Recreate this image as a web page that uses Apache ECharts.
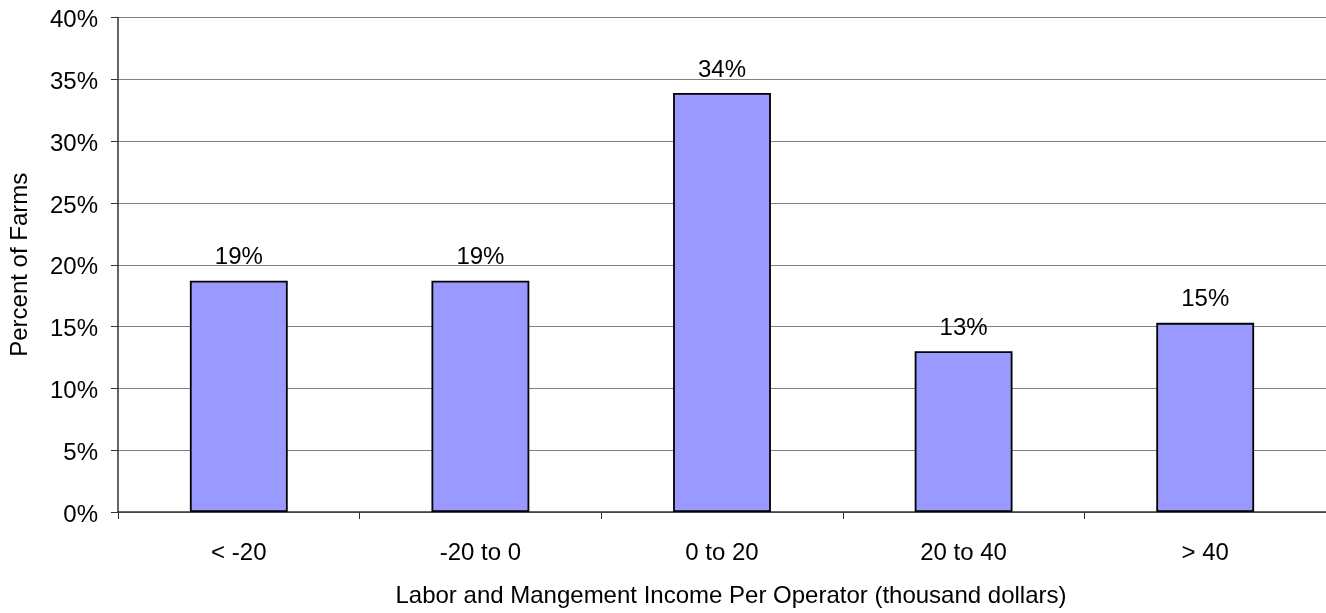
<!DOCTYPE html>
<html>
<head>
<meta charset="utf-8">
<script src="https://cdn.jsdelivr.net/npm/echarts@6/dist/echarts.min.js"></script>
<style>
  html, body { margin: 0; padding: 0; background: #fff; }
  #chart { width: 1326px; height: 613px; }
</style>
</head>
<body>
<div id="chart"></div>
<script>
// income classes (thousand dollars)
var categories = ['< -20', '-20 to 0', '0 to 20', '20 to 40', '> 40'];
// percent of farms
var farmShare = [18.7, 18.7, 33.9, 13.0, 15.3];
var yTicks = [0, 5, 10, 15, 20, 25, 30, 35, 40];

var font = '"Liberation Sans", Arial, sans-serif';

var myChart = echarts.init(document.getElementById('chart'), null, {renderer: 'canvas'});
var option = {
    animation: false,
    grid: { left: 117, right: 0, top: 17.5, bottom: 99, containLabel: false },
    xAxis: {
        type: 'category',
        data: categories,
        name: 'Labor and Mangement Income Per Operator (thousand dollars)',
        nameLocation: 'middle',
        nameGap: 72,
        nameTextStyle: { color: '#000', fontFamily: font, fontSize: 24, padding: [0, 0, 0, 18] },
        axisLine: { lineStyle: { color: '#333', width: 1.5 } },
        axisTick: { show: true, length: 7, inside: false, lineStyle: { color: '#333' } },
        axisLabel: { color: '#000', fontFamily: font, fontSize: 24, margin: 29 }
    },
    yAxis: {
        type: 'value',
        min: yTicks[0],
        max: yTicks[yTicks.length - 1],
        interval: 5,
        name: 'Percent of Farms',
        nameLocation: 'middle',
        nameGap: 86,
        nameTextStyle: { color: '#000', fontFamily: font, fontSize: 24 },
        axisLine: { show: true, lineStyle: { color: '#333', width: 1.5 } },
        axisTick: { show: true, length: 7, lineStyle: { color: '#333' } },
        axisLabel: {
            color: '#000', fontFamily: font, fontSize: 24, margin: 20,
            formatter: function (v) { return '{v|' + v + '%}'; },
            rich: { v: { color: '#000', fontFamily: font, fontSize: 24, padding: [6, 0, 0, 0] } }
        },
        splitLine: { show: true, lineStyle: { color: '#808080', width: 1.2 } }
    },
    series: [{
        type: 'bar',
        data: farmShare,
        barWidth: '40.5%',
        itemStyle: { color: '#9999ff', borderColor: '#000', borderWidth: 1.8 },
        label: {
            show: true,
            position: 'top',
            distance: 11,
            color: '#000',
            fontFamily: font,
            fontSize: 24,
            formatter: function (p) { return Math.round(p.value) + '%'; }
        }
    }]
};
myChart.setOption(option);
</script>
</body>
</html>
